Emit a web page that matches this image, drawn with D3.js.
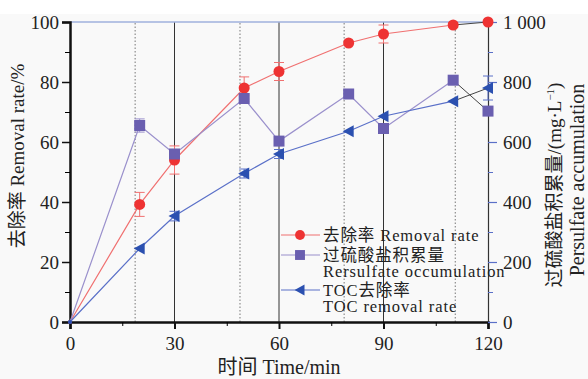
<!DOCTYPE html>
<html>
<head>
<meta charset="utf-8">
<script src="https://cdn.jsdelivr.net/npm/d3@7"></script>
<style>
  body { margin: 0; background: #fff; }
  svg text { font-family: "Liberation Serif", "Noto Sans CJK SC", serif; fill: #222; }
</style>
</head>
<body>
<div id="chart"></div>
<script>
// data
const times = [0, 20, 30, 50, 60, 80, 90, 110, 120];
const removalRate = [0, 39.2, 54, 78, 83.5, 93, 96, 99, 100];
const removalErr = [0, 4, 4.7, 3.7, 3, 0, 3, 0.8, 0];
const persulfate = [0, 655, 560, 745, 603, 760, 645, 806, 703];
const persulfateErr = [0, 22, 15, 10, 0, 0, 0, 0, 0];
const tocRate = [0, 24.5, 35.3, 49.5, 56, 63.6, 68.6, 73.6, 78];
const tocErr = [0, 0, 1.6, 1.5, 1.5, 0, 0, 0, 4];
const solidLines = [30, 60, 90];
const dottedLines = [18.7, 48.8, 78.7, 110.6];
const xTicks = [0, 30, 60, 90, 120];
const leftTicks = [0, 20, 40, 60, 80, 100];
const rightTicks = [0, 200, 400, 600, 800, 1000];

const W = 588, H = 379;
const m = {l: 70, r: 100, t: 22, b: 57};

const svg = d3.select("#chart").append("svg")
    .attr("width", W).attr("height", H);

svg.append("rect").attr("x", 0).attr("y", 14).attr("width", W).attr("height", H - 14)
    .attr("fill", "#f9f9f9");

const x = d3.scaleLinear().domain([0, 120]).range([m.l, W - m.r]);
const yL = d3.scaleLinear().domain([0, 100]).range([H - m.b, m.t]);
const yR = d3.scaleLinear().domain([0, 1000]).range([H - m.b, m.t]);

// vertical guide lines
svg.selectAll(".vsolid").data(solidLines).enter().append("line")
    .attr("x1", d => x(d)).attr("x2", d => x(d))
    .attr("y1", yL(0)).attr("y2", yL(100))
    .attr("stroke", "#333").attr("stroke-width", 1);
svg.selectAll(".vdot").data(dottedLines).enter().append("line")
    .attr("x1", d => x(d)).attr("x2", d => x(d))
    .attr("y1", yL(0)).attr("y2", yL(100))
    .attr("stroke", "#777").attr("stroke-width", 1).attr("stroke-dasharray", "1.5,2");

// top line
svg.append("line").attr("x1", x(0)).attr("x2", x(120))
    .attr("y1", yL(100)).attr("y2", yL(100))
    .attr("stroke", "#9fb0dd").attr("stroke-width", 1.5);

// axes
const gx = svg.append("g").attr("transform", `translate(0,${yL(0)})`)
    .call(d3.axisBottom(x).tickValues(xTicks).tickSize(7).tickPadding(8));
svg.append("g").attr("transform", `translate(0,${yL(0)})`)
    .call(d3.axisBottom(x).tickValues([15, 45, 75, 105]).tickSize(4).tickFormat(""))
    .call(g => g.select(".domain").remove());
gx.select(".domain").attr("stroke-width", 2.5).attr("stroke", "#111");
gx.selectAll(".tick line").attr("stroke-width", 2).attr("stroke", "#111");

const gl = svg.append("g").attr("transform", `translate(${x(0)},0)`)
    .call(d3.axisLeft(yL).tickValues(leftTicks).tickSize(8).tickPadding(3));
svg.append("g").attr("transform", `translate(${x(0)},0)`)
    .call(d3.axisLeft(yL).tickValues([10, 30, 50, 70, 90]).tickSize(5).tickFormat(""))
    .call(g => g.select(".domain").remove());
gl.select(".domain").attr("stroke-width", 2.5).attr("stroke", "#111");
gl.selectAll(".tick line").attr("stroke-width", 1.5).attr("stroke", "#111");

const fmtR = d => d === 1000 ? "1 000" : d;
const gr = svg.append("g").attr("transform", `translate(${x(120)},0)`)
    .call(d3.axisRight(yR).tickValues(rightTicks).tickSize(9).tickPadding(6).tickFormat(fmtR));
svg.append("g").attr("transform", `translate(${x(120)},0)`)
    .call(d3.axisRight(yR).tickValues([100, 300, 500, 700, 900]).tickSize(5).tickFormat(""))
    .call(g => g.select(".domain").remove())
    .selectAll(".tick line").attr("stroke", "#5a70c8");
gr.select(".domain").attr("stroke-width", 1.2).attr("stroke", "#333");
gr.selectAll(".tick line").attr("stroke", "#5a70c8").attr("stroke-width", 1.2);

[gx, gl, gr].forEach(g => {
  g.attr("font-family", null).attr("font-size", null);
  g.selectAll("text").style("font-size", "19px");
});

// series
const series = [
  {vals: removalRate, err: removalErr, y: yL, color: "#ee3333", line: "#f07070", marker: "circle"},
  {vals: persulfate, err: persulfateErr, y: yR, color: "#6a5fb0", line: "#9a90cc", marker: "square"},
  {vals: tocRate, err: tocErr, y: yL, color: "#2b50b0", line: "#5a70c8", marker: "triangle"}
];

function drawMarker(g, s, cx, cy, k = 1) {
  if (s.marker === "circle") {
    g.append("circle").attr("cx", cx).attr("cy", cy).attr("r", 5.5 * k).attr("fill", s.color);
  } else if (s.marker === "square") {
    const h = 5.5 * k;
    g.append("rect").attr("x", cx - h).attr("y", cy - h).attr("width", 2 * h).attr("height", 2 * h)
      .attr("fill", s.color);
  } else {
    g.append("path").attr("d", `M${cx - 6 * k},${cy}L${cx + 5 * k},${cy - 6 * k}L${cx + 5 * k},${cy + 6 * k}Z`)
      .attr("fill", s.color);
  }
}

series.forEach(s => {
  const pts = times.map((t, i) => [x(t), s.y(s.vals[i])]);
  const g = svg.append("g");
  g.append("path")
    .attr("d", d3.line()(pts.slice(0, pts.length - 1)))
    .attr("fill", "none").attr("stroke", s.line).attr("stroke-width", 1.2);
  g.append("path")
    .attr("d", d3.line()(pts.slice(pts.length - 2)))
    .attr("fill", "none").attr("stroke", "#444").attr("stroke-width", 1);
  times.forEach((t, i) => {
    const e = s.err[i];
    if (!e) return;
    const cx = x(t), y1 = s.y(s.vals[i] - e), y2 = s.y(s.vals[i] + e);
    g.append("path")
      .attr("d", `M${cx},${y1}V${y2}M${cx - 5},${y1}H${cx + 5}M${cx - 5},${y2}H${cx + 5}`)
      .attr("stroke", s.line).attr("stroke-width", 1).attr("fill", "none");
  });
  times.forEach((t, i) => {
    if (i === 0) return;
    drawMarker(g, s, x(t), s.y(s.vals[i]));
  });
  g.append("circle").attr("cx", x(0)).attr("cy", yL(0)).attr("r", 2).attr("fill", s.color);
});

// legend
const legend = [
  {s: series[0], lines: ["去除率 Removal rate"], y: 235},
  {s: series[1], lines: ["过硫酸盐积累量", "Rersulfate occumulation"], y: 255},
  {s: series[2], lines: ["TOC去除率", "TOC removal rate"], y: 290}
];
legend.forEach(d => {
  const g = svg.append("g");
  g.append("line").attr("x1", 281).attr("x2", 320).attr("y1", d.y).attr("y2", d.y)
    .attr("stroke", d.s.line).attr("stroke-width", 1.2);
  drawMarker(g, d.s, 300, d.y, 0.9);
  d.lines.forEach((t, j) => {
    g.append("text").attr("x", 323).attr("y", d.y + 5.5 + j * 16)
      .style("font-size", "16.5px").style("letter-spacing", "0.9px").text(t);
  });
});

// axis titles
svg.append("text").attr("x", x(60)).attr("y", 374).attr("text-anchor", "middle")
  .style("font-size", "20px").text("时间 Time/min");
svg.append("text").attr("transform", `translate(24,156) rotate(-90)`)
  .attr("text-anchor", "middle").style("font-size", "19px").text("去除率 Removal rate/%");
const rt = svg.append("text").attr("transform", `translate(561,185) rotate(-90)`)
  .attr("text-anchor", "middle").style("font-size", "19px");
rt.append("tspan").text("过硫酸盐积累量/(mg·L");
rt.append("tspan").attr("dy", -7).style("font-size", "11px").text("−1");
rt.append("tspan").attr("dy", 7).text(")");
svg.append("text").attr("transform", `translate(584,180) rotate(-90)`)
  .attr("text-anchor", "middle").style("font-size", "20px").text("Persulfate accumulation");
</script>
</body>
</html>
